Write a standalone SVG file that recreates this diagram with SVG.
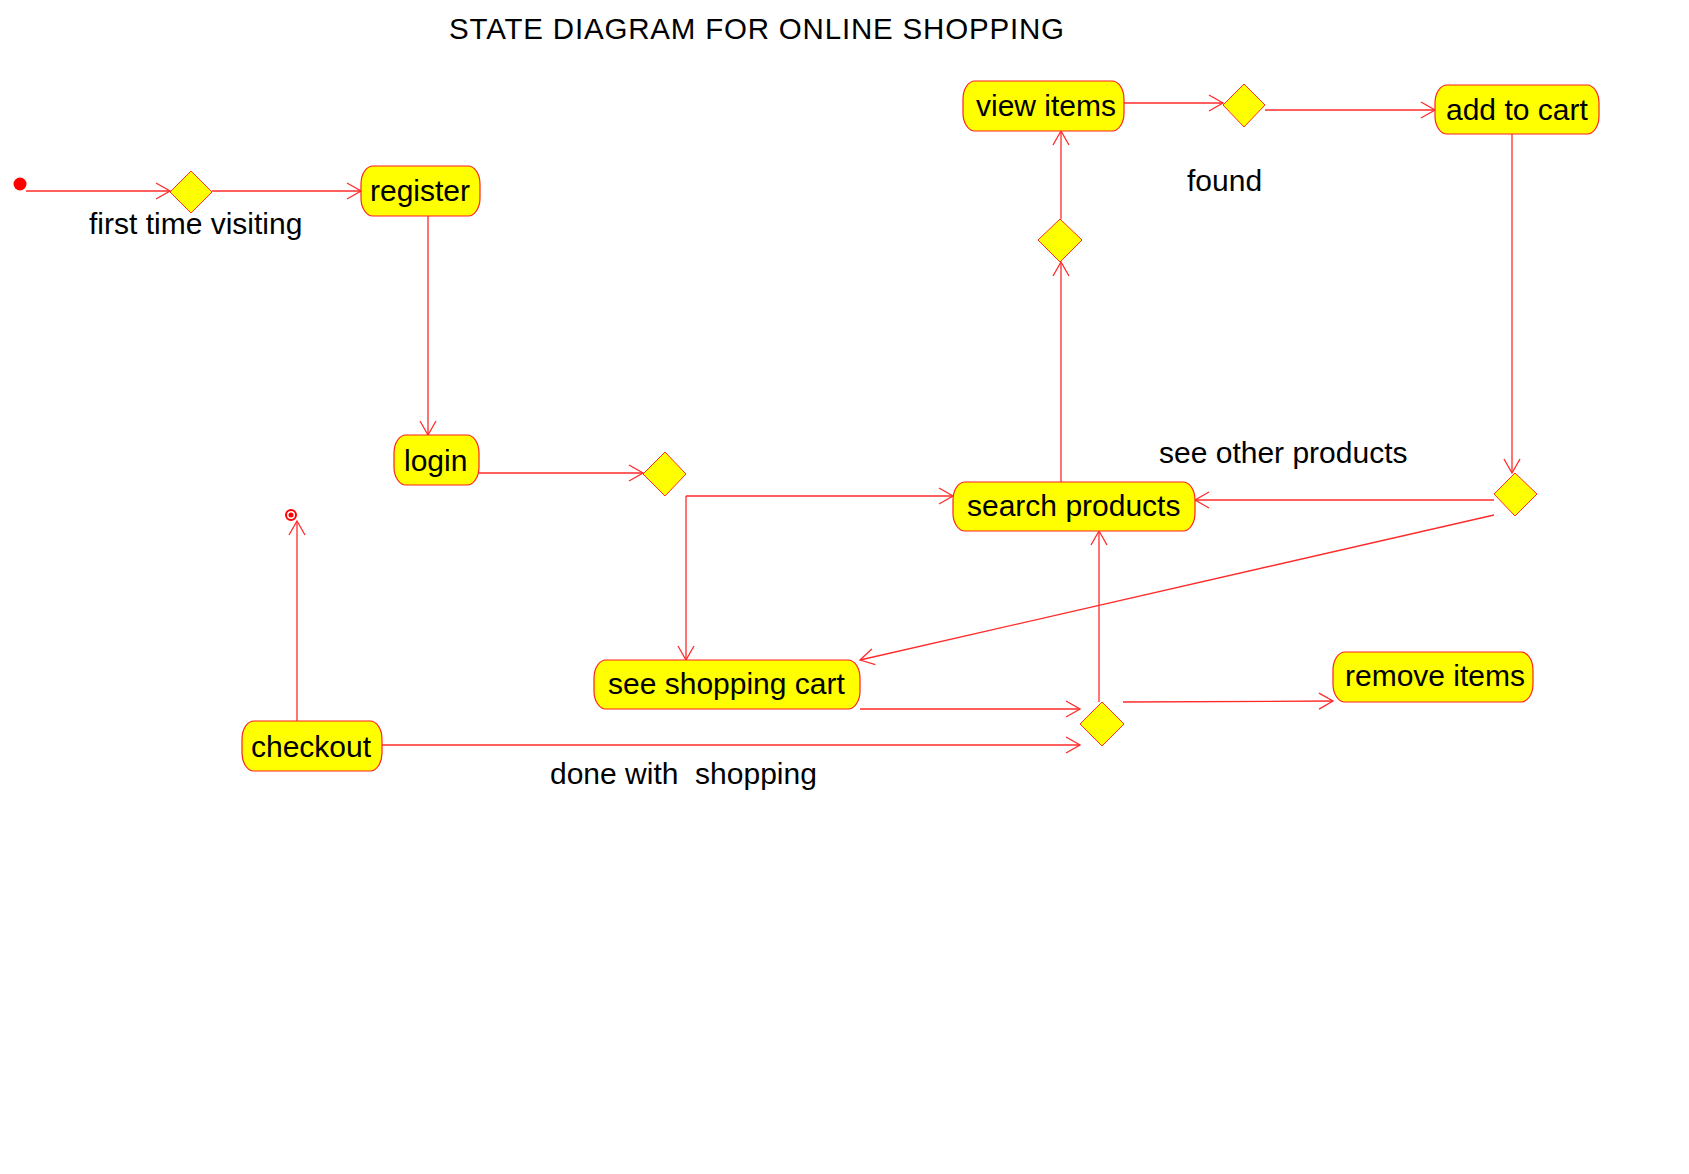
<svg xmlns="http://www.w3.org/2000/svg" width="1689" height="1174" viewBox="0 0 1689 1174">
<defs>
<style>
.box{fill:#ffff00;stroke:#ff2020;stroke-width:1.2}
.dia{fill:#ffff00;stroke:#ff3020;stroke-width:1}
.lbl{font-family:"Liberation Sans",Arial,sans-serif;font-size:30px;fill:#000}
.title{font-family:"Liberation Sans",Arial,sans-serif;font-size:29.5px;fill:#000}
#connectors line{stroke:#ff2a2a;stroke-width:1.3;fill:none;marker-end:url(#arr)}
</style>
<marker id="arr" markerUnits="userSpaceOnUse" markerWidth="20" markerHeight="20" viewBox="-16 -10 18 20" refX="0" refY="0" orient="auto">
<path d="M-14,-8 L0,0 L-14,8" fill="none" stroke="#ff2a2a" stroke-width="1.3"/>
</marker>
</defs>
<rect width="1689" height="1174" fill="#fff"/>
<text class="title" x="449" y="39" textLength="615" lengthAdjust="spacing">STATE DIAGRAM FOR ONLINE SHOPPING</text>

<g id="connectors">
<line x1="26" y1="191" x2="170" y2="191"/>
<line x1="212" y1="191" x2="361" y2="191"/>
<line x1="428" y1="216" x2="428" y2="435"/>
<line x1="479" y1="473" x2="643" y2="473"/>
<line x1="686" y1="496" x2="953" y2="496"/>
<line x1="686" y1="496" x2="686" y2="660"/>
<line x1="1061" y1="482" x2="1061" y2="262"/>
<line x1="1061" y1="219" x2="1061" y2="131"/>
<line x1="1124" y1="103" x2="1223" y2="103"/>
<line x1="1265" y1="110" x2="1435" y2="110"/>
<line x1="1512" y1="134" x2="1512" y2="473"/>
<line x1="1494" y1="500" x2="1195" y2="500"/>
<line x1="1494" y1="515" x2="860" y2="660"/>
<line x1="860" y1="709" x2="1080" y2="709"/>
<line x1="382" y1="745" x2="1080" y2="745"/>
<line x1="1099" y1="702" x2="1099" y2="531"/>
<line x1="1123" y1="702" x2="1333" y2="701"/>
<line x1="297" y1="721" x2="297" y2="521"/>
</g>

<g id="initial"><circle cx="20" cy="184" r="6.5" fill="#ff0000"/></g>
<g id="final"><circle cx="291" cy="515" r="5" fill="#fff" stroke="#ff0000" stroke-width="2"/><circle cx="291" cy="515" r="2.5" fill="#ff0000"/></g>

<g id="d1"><polygon class="dia" points="170,192 191,171 212,192 191,213"/></g>
<g id="d2"><polygon class="dia" points="643,474 665,452 686,474 665,496"/></g>
<g id="d3"><polygon class="dia" points="1223,105 1244,84 1265,105 1244,127"/></g>
<g id="d4"><polygon class="dia" points="1038,240 1060,219 1082,240 1060,262"/></g>
<g id="d5"><polygon class="dia" points="1494,494 1515,473 1537,494 1515,516"/></g>
<g id="d6"><polygon class="dia" points="1080,724 1102,702 1124,724 1102,746"/></g>

<g id="register"><rect class="box" x="361" y="166" width="119" height="50" rx="12" ry="18"/><text class="lbl" x="370" y="201">register</text></g>
<g id="login"><rect class="box" x="394" y="435" width="85" height="50" rx="12" ry="18"/><text class="lbl" x="404" y="471">login</text></g>
<g id="viewitems"><rect class="box" x="963" y="81" width="161" height="50" rx="12" ry="18"/><text class="lbl" x="976" y="116">view items</text></g>
<g id="addtocart"><rect class="box" x="1435" y="85" width="164" height="49" rx="12" ry="18"/><text class="lbl" x="1446" y="120">add to cart</text></g>
<g id="searchproducts"><rect class="box" x="953" y="482" width="242" height="49" rx="12" ry="18"/><text class="lbl" x="967" y="516">search products</text></g>
<g id="seeshoppingcart"><rect class="box" x="594" y="660" width="266" height="49" rx="12" ry="18"/><text class="lbl" x="608" y="694">see shopping cart</text></g>
<g id="removeitems"><rect class="box" x="1333" y="652" width="200" height="50" rx="12" ry="18"/><text class="lbl" x="1345" y="686">remove items</text></g>
<g id="checkout"><rect class="box" x="242" y="721" width="140" height="50" rx="12" ry="18"/><text class="lbl" x="251" y="757">checkout</text></g>

<g id="labels">
<text class="lbl" x="89" y="234">first time visiting</text>
<text class="lbl" x="1187" y="191">found</text>
<text class="lbl" x="1159" y="463">see other products</text>
<text class="lbl" x="550" y="784" xml:space="preserve">done with  shopping</text>
</g>
</svg>
